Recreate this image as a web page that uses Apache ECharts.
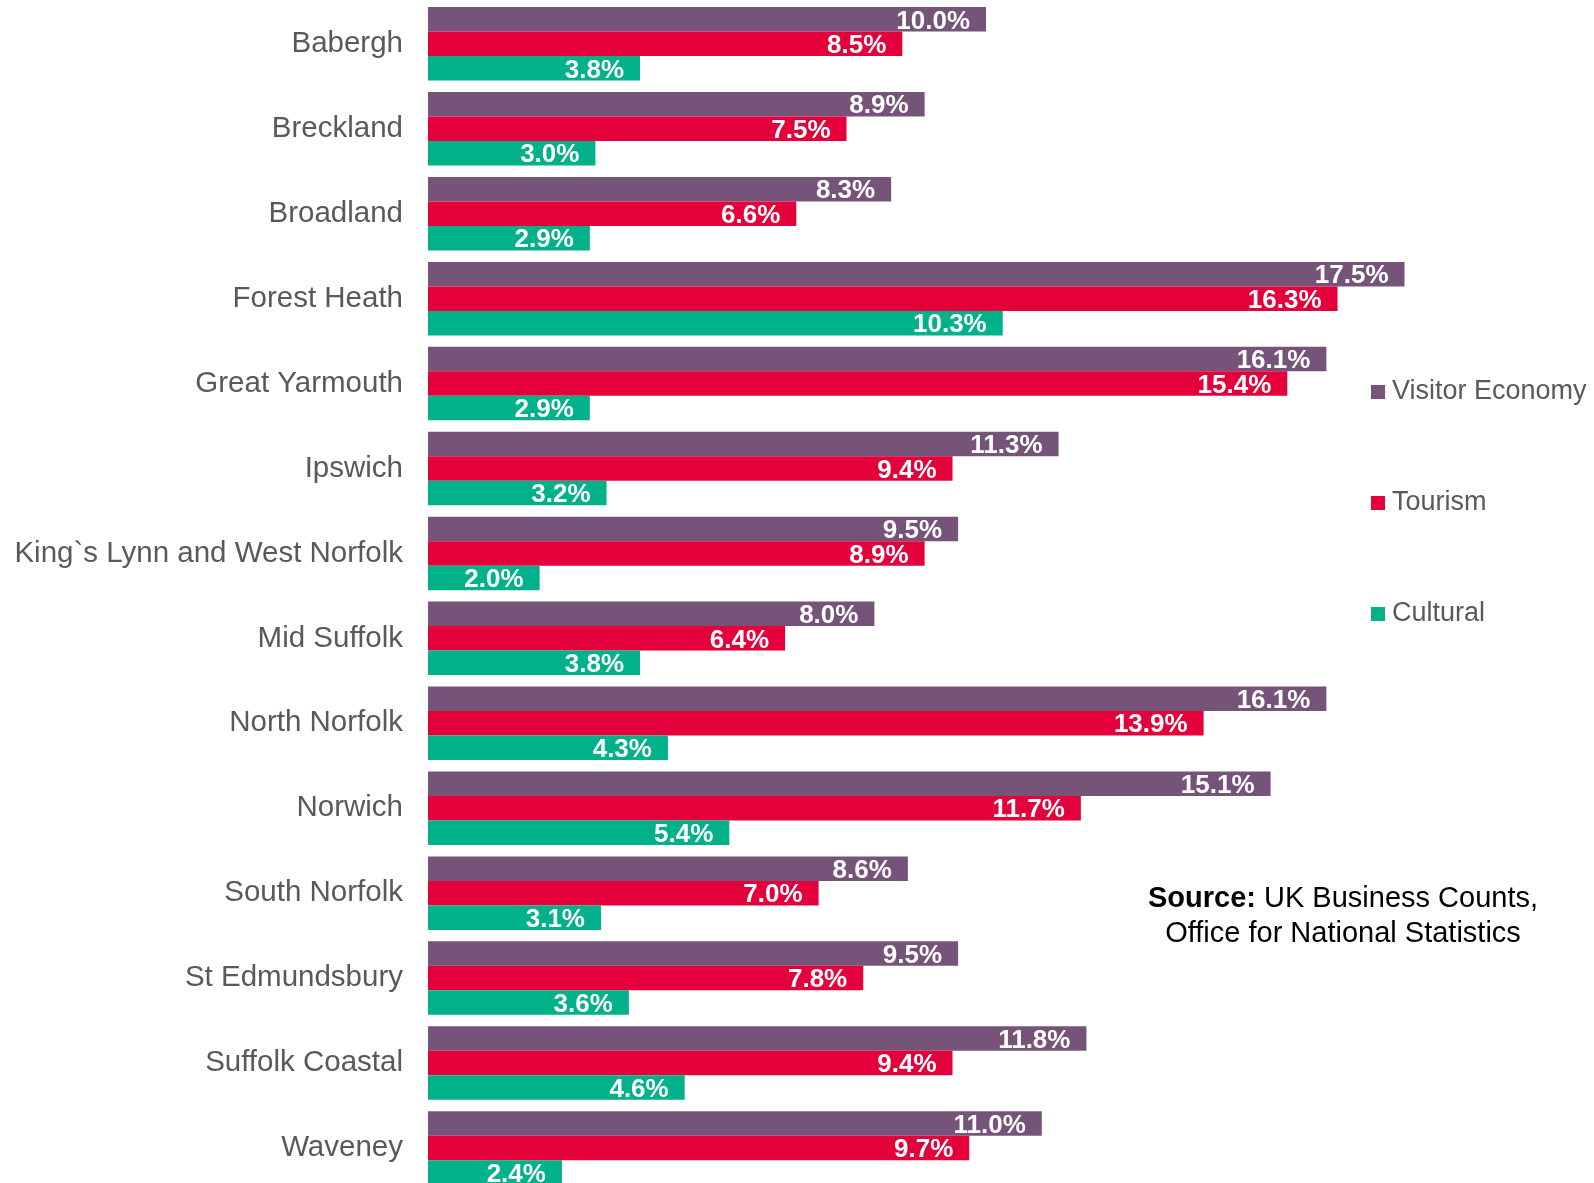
<!DOCTYPE html>
<html>
<head>
<meta charset="utf-8">
<script src="https://cdn.jsdelivr.net/npm/echarts@6/dist/echarts.min.js"></script>
<style>
html,body{margin:0;padding:0;background:#fff;overflow:hidden;}
#chart{width:1594px;height:1200px;}
</style>
</head>
<body>
<div id="chart"></div>
<script>
const categories = ["Babergh","Breckland","Broadland","Forest Heath","Great Yarmouth","Ipswich","King`s Lynn and West Norfolk","Mid Suffolk","North Norfolk","Norwich","South Norfolk","St Edmundsbury","Suffolk Coastal","Waveney"];
const visitorEconomy = [10.0, 8.9, 8.3, 17.5, 16.1, 11.3, 9.5, 8.0, 16.1, 15.1, 8.6, 9.5, 11.8, 11.0];
const tourism = [8.5, 7.5, 6.6, 16.3, 15.4, 9.4, 8.9, 6.4, 13.9, 11.7, 7.0, 7.8, 9.4, 9.7];
const cultural = [3.8, 3.0, 2.9, 10.3, 2.9, 3.2, 2.0, 3.8, 4.3, 5.4, 3.1, 3.6, 4.6, 2.4];
const seriesNames = ["Visitor Economy", "Tourism", "Cultural"];
const colors = ["#76547A", "#E4003B", "#00B189"];

const font = "Arial, 'Liberation Sans', Helvetica, sans-serif";
const labelCfg = {
  show: true,
  position: 'insideRight',
  distance: 16,
  offset: [0, 2],
  color: '#ffffff',
  fontFamily: font,
  fontWeight: 'bold',
  fontSize: 26,
  formatter: p => p.value.toFixed(1) + '%'
};
function mk(name, data, color) {
  return {
    name: name,
    type: 'bar',
    data: data,
    barWidth: 24.5,
    barGap: '0%',
    itemStyle: { color: color },
    label: labelCfg,
    silent: true
  };
}
const chart = echarts.init(document.getElementById('chart'));
chart.setOption({
  animation: false,
  color: colors,
  grid: { left: 428, top: 1.4, width: 1116, height: 1189, containLabel: false },
  xAxis: {
    type: 'value', min: 0, max: 20, show: false
  },
  yAxis: {
    type: 'category',
    data: categories,
    inverse: true,
    axisLine: { show: false },
    axisTick: { show: false },
    axisLabel: { color: '#595959', fontSize: 29.5, fontFamily: font, margin: 25 }
  },
  legend: {
    orient: 'vertical',
    left: 1366,
    top: 372,
    icon: 'rect',
    itemWidth: 14,
    itemHeight: 14,
    itemGap: 81,
    data: seriesNames,
    textStyle: { color: '#595959', fontSize: 27, fontFamily: font, lineHeight: 30, padding: [0,0,0,2] }
  },
  graphic: [{
    type: 'text',
    x: 1343,
    y: 881,
    style: {
      text: '{b|Source:} UK Business Counts,\nOffice for National Statistics',
      align: 'center',
      fill: '#000',
      font: '29px ' + font,
      lineHeight: 35,
      rich: {
        b: { fontWeight: 'bold', fontSize: 29, fontFamily: font, fill: '#000', lineHeight: 35 }
      }
    }
  }],
  series: [
    mk(seriesNames[0], visitorEconomy, colors[0]),
    mk(seriesNames[1], tourism, colors[1]),
    mk(seriesNames[2], cultural, colors[2])
  ]
});
</script>
</body>
</html>
